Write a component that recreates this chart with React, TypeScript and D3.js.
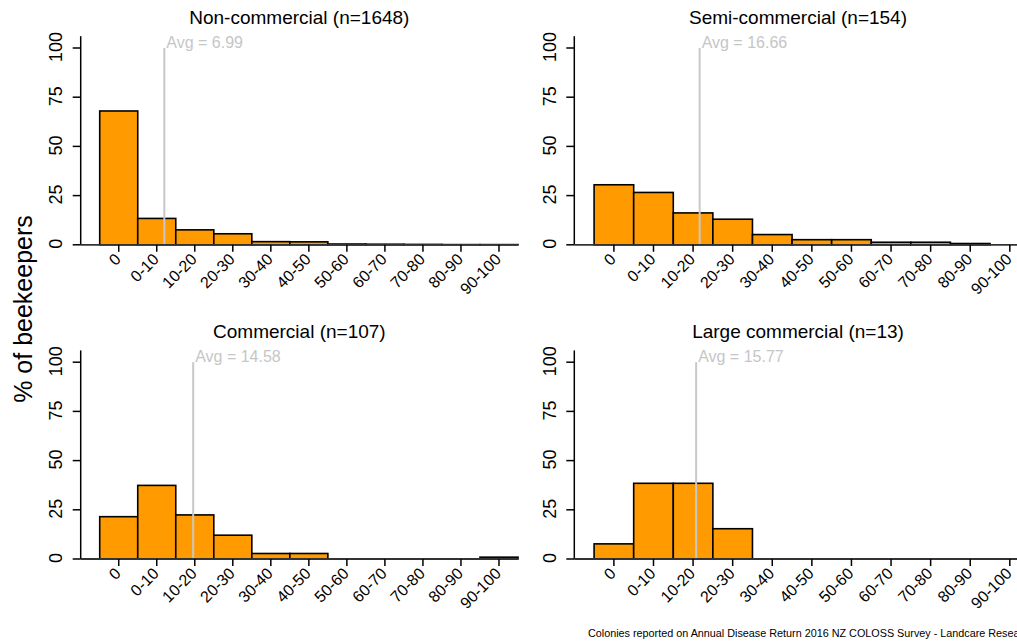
import React from "react";
import * as d3 from "d3";

// bins of colony loss (%)
const bins = ["0", "0-10", "10-20", "20-30", "30-40", "40-50", "50-60", "60-70", "70-80", "80-90", "90-100"];

// % of beekeepers in each bin
const nonCommercial = [68.0, 13.4, 7.6, 5.6, 1.6, 1.5, 0.4, 0.3, 0.2, 0.1, 0.1];
const semiCommercial = [30.5, 26.6, 16.2, 13.0, 5.2, 2.6, 2.6, 1.3, 1.3, 0.65, 0];
const commercial = [21.5, 37.4, 22.4, 12.1, 2.8, 2.8, 0, 0, 0, 0, 0.93];
const largeCommercial = [7.69, 38.46, 38.46, 15.38, 0, 0, 0, 0, 0, 0, 0];

const titles = ["Non-commercial (n=1648)", "Semi-commercial (n=154)", "Commercial (n=107)", "Large commercial (n=13)"];
const averages = [6.99, 16.66, 14.58, 15.77];
const yTicks = [0, 25, 50, 75, 100];

const FONT = "'Liberation Sans', Arial, Helvetica, sans-serif";
const ORANGE = "#ff9b00";

const series = [nonCommercial, semiCommercial, commercial, largeCommercial];

// layout of the 2x2 grid
const cols = [
  { left: 80.7, right: 518, xMax: 100 },
  { left: 574.3, right: 1021.7, xMax: 98 },
];
const rows = [{ base: 244.8 }, { base: 559 }];
const PX_PER_UNIT = 1.968;

function Panel({ idx }: { idx: number }) {
  const col = cols[idx % 2];
  const row = rows[Math.floor(idx / 2)];
  const values = series[idx];

  const x = d3.scaleLinear().domain([-15, col.xMax]).range([col.left, col.right]);
  const y = d3
    .scaleLinear()
    .domain([0, 106])
    .range([row.base, row.base - 106 * PX_PER_UNIT]);

  const avg = averages[idx];

  return (
    <g>
      <text
        x={(col.left + col.right) / 2}
        y={y(106) - 12}
        textAnchor="middle"
        fontSize={19}
        fill="#000"
      >
        {titles[idx]}
      </text>

      {/* bars */}
      {values.map((v, i) =>
        v > 0 ? (
          <rect
            key={i}
            x={x(10 * i - 10)}
            y={y(v)}
            width={x(10 * i) - x(10 * i - 10)}
            height={y(0) - y(v)}
            fill={ORANGE}
            stroke="#000"
            strokeWidth={1.6}
          />
        ) : null
      )}

      {/* average line */}
      <line x1={x(avg)} x2={x(avg)} y1={y(0)} y2={y(100)} stroke="#c8c8c8" strokeWidth={2} />
      <text x={x(avg) + 2} y={y(100) - 0.5} fontSize={16} fill="#c6c6c6">
        {`Avg = ${avg.toFixed(2)}`}
      </text>

      {/* y axis */}
      <line x1={x(-15)} x2={x(-15)} y1={y(0)} y2={y(106)} stroke="#000" strokeWidth={1.5} />
      {yTicks.map((t) => (
        <g key={t}>
          <line x1={x(-15) - 8} x2={x(-15)} y1={y(t)} y2={y(t)} stroke="#000" strokeWidth={1.5} />
          <text
            transform={`translate(${x(-15) - 18.5},${y(t) - 1}) rotate(-90)`}
            textAnchor="middle"
            fontSize={18}
            fill="#000"
          >
            {t}
          </text>
        </g>
      ))}

      {/* x axis */}
      <line x1={x(-15)} x2={col.right} y1={y(0)} y2={y(0)} stroke="#333" strokeWidth={1.8} />
      {bins.map((b, i) => {
        const cx = x(10 * i - 5);
        return (
          <g key={b}>
            <line x1={cx} x2={cx} y1={y(0)} y2={y(0) + 7} stroke="#000" strokeWidth={1.5} />
            <text
              transform={`translate(${cx + 3},${y(0) + 15.5}) rotate(-45)`}
              textAnchor="end"
              fontSize={16}
              fill="#000"
            >
              {b}
            </text>
          </g>
        );
      })}
    </g>
  );
}

export default function App() {
  return (
    <svg
      width={1017}
      height={643}
      style={{ position: "absolute", left: 0, top: 0, background: "#fff" }}
      fontFamily={FONT}
    >
      <rect width={1017} height={643} fill="#fff" />
      {[0, 1, 2, 3].map((i) => (
        <Panel key={i} idx={i} />
      ))}
      <text transform="translate(32,309) rotate(-90)" textAnchor="middle" fontSize={25} fill="#000">
        % of beekeepers
      </text>
      <text x={588} y={637} fontSize={10.8} fill="#000">
        Colonies reported on Annual Disease Return 2016 NZ COLOSS Survey - Landcare Research
      </text>
    </svg>
  );
}
